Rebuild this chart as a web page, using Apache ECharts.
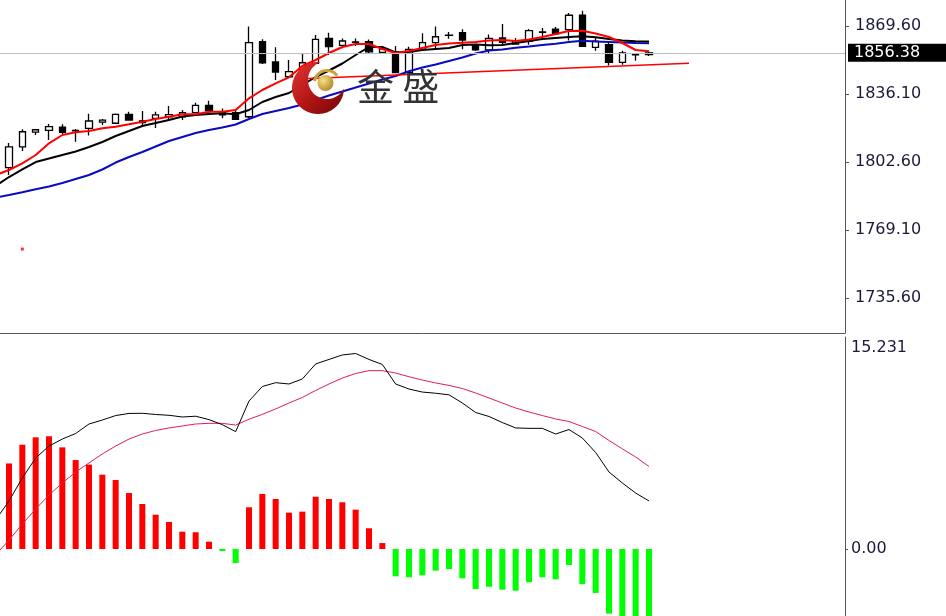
<!DOCTYPE html>
<html><head><meta charset="utf-8">
<script src="https://cdn.jsdelivr.net/npm/echarts@6/dist/echarts.min.js"></script>
<style>html,body{margin:0;padding:0;background:#fff}#c{width:946px;height:616px}</style>
</head><body><div id="c"></div>
<script>
// ---- data ----
// candles: [open, close, low, high]
const candles = [
  [1799.8,1810.1,1796.2,1812.0],[1810.1,1817.5,1808.0,1818.7],[1817.3,1818.5,1815.9,1818.9],
  [1818.2,1820.0,1813.4,1821.3],[1819.8,1817.2,1816.4,1821.2],[1818.0,1818.2,1812.6,1818.9],
  [1819.2,1822.8,1815.6,1826.4],[1822.2,1823.2,1820.8,1823.8],[1821.7,1826.1,1821.3,1826.5],
  [1826.1,1823.3,1823.0,1827.4],[1822.9,1822.0,1820.0,1827.7],[1824.1,1825.8,1819.4,1827.4],
  [1824.9,1825.9,1823.3,1830.2],[1824.9,1826.9,1823.3,1828.2],[1826.9,1830.5,1826.7,1831.8],
  [1830.5,1827.9,1825.8,1832.8],[1826.9,1825.8,1824.1,1828.9],[1826.9,1823.6,1823.3,1828.2],
  [1824.9,1861.4,1824.3,1869.3],[1861.9,1851.5,1850.9,1863.1],[1851.9,1846.9,1843.0,1859.1],
  [1844.6,1847.1,1844.0,1852.9],[1845.0,1851.5,1843.5,1856.2],[1851.2,1863.0,1850.9,1865.2],
  [1863.5,1859.4,1855.3,1866.3],[1860.1,1862.2,1858.6,1863.5],[1861.6,1861.8,1859.8,1863.5],
  [1861.9,1856.9,1856.3,1863.0],[1856.6,1858.3,1856.3,1859.4],[1856.9,1846.6,1846.3,1859.8],
  [1846.6,1858.1,1846.4,1859.4],[1858.1,1861.4,1857.8,1866.0],[1861.4,1864.3,1857.8,1869.3],
  [1865.0,1865.1,1863.3,1866.6],[1866.3,1862.7,1858.1,1868.0],[1860.0,1857.8,1857.3,1860.7],
  [1857.8,1863.5,1856.2,1865.4],[1863.7,1861.6,1860.1,1870.6],[1860.7,1862.4,1860.5,1863.7],
  [1862.1,1867.3,1860.4,1868.1],[1866.5,1866.7,1863.7,1868.6],[1868.1,1865.7,1865.2,1869.1],
  [1867.8,1874.9,1862.4,1876.0],[1874.9,1859.6,1859.3,1877.1],[1859.1,1862.1,1857.4,1863.7],
  [1860.4,1851.7,1850.2,1861.7],[1851.7,1856.3,1850.5,1857.4],[1855.4,1855.5,1852.5,1855.6],
  [1855.5,1856.38,1854.8,1857.3]
];
// moving averages: first value belongs to the bar just left of the first visible candle
const maRed = [1796.20,1798.66,1801.96,1806.05,1811.81,1815.90,1817.23,1817.87,1819.20,1819.99,
  1821.17,1822.45,1823.78,1824.92,1826.10,1826.10,1827.38,1827.38,1828.22,1833.98,1838.07,
  1841.37,1844.33,1849.89,1852.85,1856.30,1859.25,1860.73,1860.73,1858.27,1856.30,1857.28,
  1858.76,1860.24,1860.98,1861.37,1861.72,1862.46,1862.70,1862.21,1862.95,1864.18,1865.66,
  1867.14,1867.28,1865.91,1864.18,1861.23,1857.78,1857.14];
const maBlack = [1790.78,1795.21,1798.91,1802.60,1804.33,1806.05,1807.77,1809.99,1812.45,1815.41,
  1817.87,1820.34,1821.81,1823.29,1825.02,1825.76,1826.25,1826.59,1826.10,1828.22,1832.16,
  1834.62,1836.59,1840.53,1844.48,1847.68,1851.13,1855.31,1859.25,1859.25,1856.55,1856.79,
  1857.78,1858.27,1858.76,1860.24,1860.49,1860.09,1860.24,1861.23,1862.21,1863.20,1863.69,
  1864.18,1864.53,1864.03,1863.20,1862.46,1862.06,1861.96];
const maBlue = [1785.11,1786.34,1787.67,1789.15,1790.53,1792.26,1794.23,1796.20,1798.91,1802.35,
  1805.06,1807.53,1810.24,1812.95,1814.92,1816.89,1818.37,1819.60,1821.07,1823.78,1826.25,
  1827.73,1829.20,1830.93,1833.14,1835.36,1837.33,1839.30,1841.27,1843.24,1844.97,1847.28,
  1849.16,1850.63,1852.36,1854.08,1856.05,1857.53,1858.02,1858.86,1859.50,1860.24,1860.88,
  1861.72,1862.36,1861.96,1861.72,1861.47,1861.23,1861.08];
// trend line: [candle index, price]
const trendLine = [[22, 1843.6], [51, 1851.2]];
const markerDot = [1, 1759.7];
const lastPrice = 1856.38;
const priceTicks = [1735.6, 1769.1, 1802.6, 1836.1, 1869.6];
// MACD panel
const dif = [2.20,3.64,5.38,6.89,7.80,8.33,8.75,9.47,9.77,10.11,10.27,10.28,10.19,10.13,10.00,10.06,
  9.80,9.42,8.89,11.21,12.31,12.60,12.50,12.88,14.02,14.36,14.70,14.81,14.36,13.98,12.50,12.12,
  11.89,11.80,11.68,11.06,10.34,10.04,9.58,9.17,9.14,9.14,8.71,9.05,8.41,7.31,5.83,5.00,4.24,3.64];
const dea = [-0.45,0.68,1.89,3.03,4.09,5.00,5.83,6.52,7.20,7.80,8.33,8.71,8.98,9.17,9.32,9.47,
  9.52,9.52,9.39,9.83,10.20,10.61,11.06,11.48,12.01,12.50,12.95,13.30,13.51,13.51,13.33,13.05,
  12.80,12.58,12.39,12.16,11.82,11.44,11.06,10.68,10.38,10.11,9.85,9.66,9.28,8.90,8.22,7.59,6.97,6.25];
const hist = [6.48,7.90,8.46,8.54,7.70,6.74,6.39,5.63,5.23,4.24,3.41,2.60,2.05,1.31,1.27,0.55,
  -0.15,-1.06,3.16,4.17,3.79,2.75,2.83,3.96,3.79,3.54,2.98,1.57,0.45,-2.07,-2.14,-1.99,-1.64,
  -1.52,-2.22,-3.03,-2.86,-3.08,-3.16,-2.52,-2.14,-2.30,-1.21,-2.67,-3.33,-4.9,-5.2,-5.5,-5.3];
const macdTicks = [0, 15.231];
const macdTickLabels = ['0.00', '15.231'];

// ---- build ----
// bar index axis (value axis so the window can start part-way into a bar slot)
const X_MIN = -0.675, X_MAX = 62.7;
const candleData = candles.map((c, i) => [i, c[0], c[1], c[2], c[3]]);
const withLead = arr => arr.map((v, i) => [i - 1, v]);   // first value sits one bar left of candle 0
const histData = hist.map((v, i) => ({value: [i, v], itemStyle: {color: v >= 0 ? '#ff0000' : '#00ff00'}}));
const FONT = 'DejaVu Sans';
const labelColor = '#1a1a3a';

// logo geometry (decoration, not data)
function arcPts(cx, cy, r, a0, a1, n) {
  const pts = [];
  for (let k = 0; k <= n; k++) { const a = a0 + (a1 - a0) * k / n; pts.push([cx + r * Math.cos(a), cy + r * Math.sin(a)]); }
  return pts;
}
const crescentPts = arcPts(318, 88, 26, 0.019, 4.812, 60).concat(arcPts(327, 80, 19, 4.369, 0.464, 50));
const goldArcPts = arcPts(327, 83, 12.5, Math.PI * 1.05, Math.PI * 1.8, 24);

const hiddenX = (gi) => ({type: 'value', gridIndex: gi, min: X_MIN, max: X_MAX,
  axisLine: {show: gi === 0, onZero: false, lineStyle: {color: '#555', width: 1}},
  axisTick: {show: false}, axisLabel: {show: false}, splitLine: {show: false}});

const chart = echarts.init(document.getElementById('c'), null, {renderer: 'canvas'});
chart.setOption({
  animation: false,
  backgroundColor: '#ffffff',
  grid: [
    {left: 0, right: 101, top: 0, height: 333},
    {left: 0, right: 101, top: 337, bottom: 0}
  ],
  xAxis: [hiddenX(0), hiddenX(1)],
  yAxis: [
    {type: 'value', gridIndex: 0, position: 'right', min: 1718.36, max: 1882.41,
     splitLine: {show: false},
     axisLine: {show: true, onZero: false, lineStyle: {color: '#555', width: 1}},
     axisTick: {show: true, inside: false, length: 4, customValues: priceTicks, lineStyle: {color: '#555'}},
     axisLabel: {show: true, customValues: priceTicks, margin: 10, formatter: v => v.toFixed(2),
       color: labelColor, fontFamily: FONT, fontSize: 16}},
    {type: 'value', gridIndex: 1, position: 'right', min: -5.0758, max: 16.0606,
     splitLine: {show: false},
     axisLine: {show: true, onZero: false, lineStyle: {color: '#555', width: 1}},
     axisTick: {show: true, length: 3, customValues: [0], lineStyle: {color: '#555'}},
     axisLabel: {show: true, customValues: macdTicks, margin: 6,
       formatter: v => { const k = macdTicks.indexOf(v); return k >= 0 ? macdTickLabels[k] : String(v); },
       color: labelColor, fontFamily: FONT, fontSize: 16}}
  ],
  series: [
    {type: 'candlestick', xAxisIndex: 0, yAxisIndex: 0, data: candleData, barWidth: 7,
     encode: {x: 0, y: [1, 2, 3, 4]},
     itemStyle: {color: '#ffffff', color0: '#000000', borderColor: '#000000', borderColor0: '#000000', borderWidth: 1.3},
     markLine: {silent: true, symbol: ['none', 'none'], animation: false,
       lineStyle: {color: '#bdbdbd', width: 1, type: 'solid'},
       label: {show: true, position: 'end', distance: 3, formatter: lastPrice.toFixed(2),
         backgroundColor: '#000', color: '#fff', fontFamily: FONT, fontSize: 16, lineHeight: 16,
         padding: [1, 26, 1, 6]},
       data: [{yAxis: lastPrice}]}},
    {type: 'line', xAxisIndex: 0, yAxisIndex: 0, data: withLead(maBlue), symbol: 'none', lineStyle: {color: '#0a0ac0', width: 2}},
    {type: 'line', xAxisIndex: 0, yAxisIndex: 0, data: withLead(maBlack), symbol: 'none', lineStyle: {color: '#000000', width: 2}},
    {type: 'line', xAxisIndex: 0, yAxisIndex: 0, data: withLead(maRed), symbol: 'none', lineStyle: {color: '#ff0000', width: 2}},
    {type: 'line', xAxisIndex: 0, yAxisIndex: 0, data: trendLine, symbol: 'none',
     lineStyle: {color: '#ff0000', width: 1.5}},
    {type: 'scatter', xAxisIndex: 0, yAxisIndex: 0, data: [markerDot], symbol: 'rect', symbolSize: 3,
     itemStyle: {color: '#ff0000'}},
    {type: 'bar', xAxisIndex: 1, yAxisIndex: 1, data: histData, barWidth: 6},
    {type: 'line', xAxisIndex: 1, yAxisIndex: 1, data: withLead(dea), symbol: 'none', lineStyle: {color: '#dc2050', width: 1}},
    {type: 'line', xAxisIndex: 1, yAxisIndex: 1, data: withLead(dif), symbol: 'none', lineStyle: {color: '#000000', width: 1}}
  ],
  graphic: [
    {type: 'polygon', z: 100, shape: {points: crescentPts},
     style: {fill: {type: 'linear', x: 0, y: 0, x2: 1, y2: 1, colorStops: [
       {offset: 0, color: '#e43434'}, {offset: 0.55, color: '#b01414'}, {offset: 1, color: '#6e0606'}]}}},
    {type: 'polyline', z: 101, shape: {points: goldArcPts},
     style: {stroke: '#c9a23a', lineWidth: 3, fill: null}},
    {type: 'circle', z: 102, shape: {cx: 325.5, cy: 83, r: 8},
     style: {fill: {type: 'radial', x: 0.35, y: 0.35, r: 0.8, colorStops: [
       {offset: 0, color: '#f6e08a'}, {offset: 1, color: '#a8801a'}]}}},
    {type: 'text', z: 103, x: 357, y: 87,
     style: {text: '金 盛', fill: '#333333', font: '37px "Noto Sans CJK SC"', verticalAlign: 'middle'}}
  ]
});
</script></body></html>
